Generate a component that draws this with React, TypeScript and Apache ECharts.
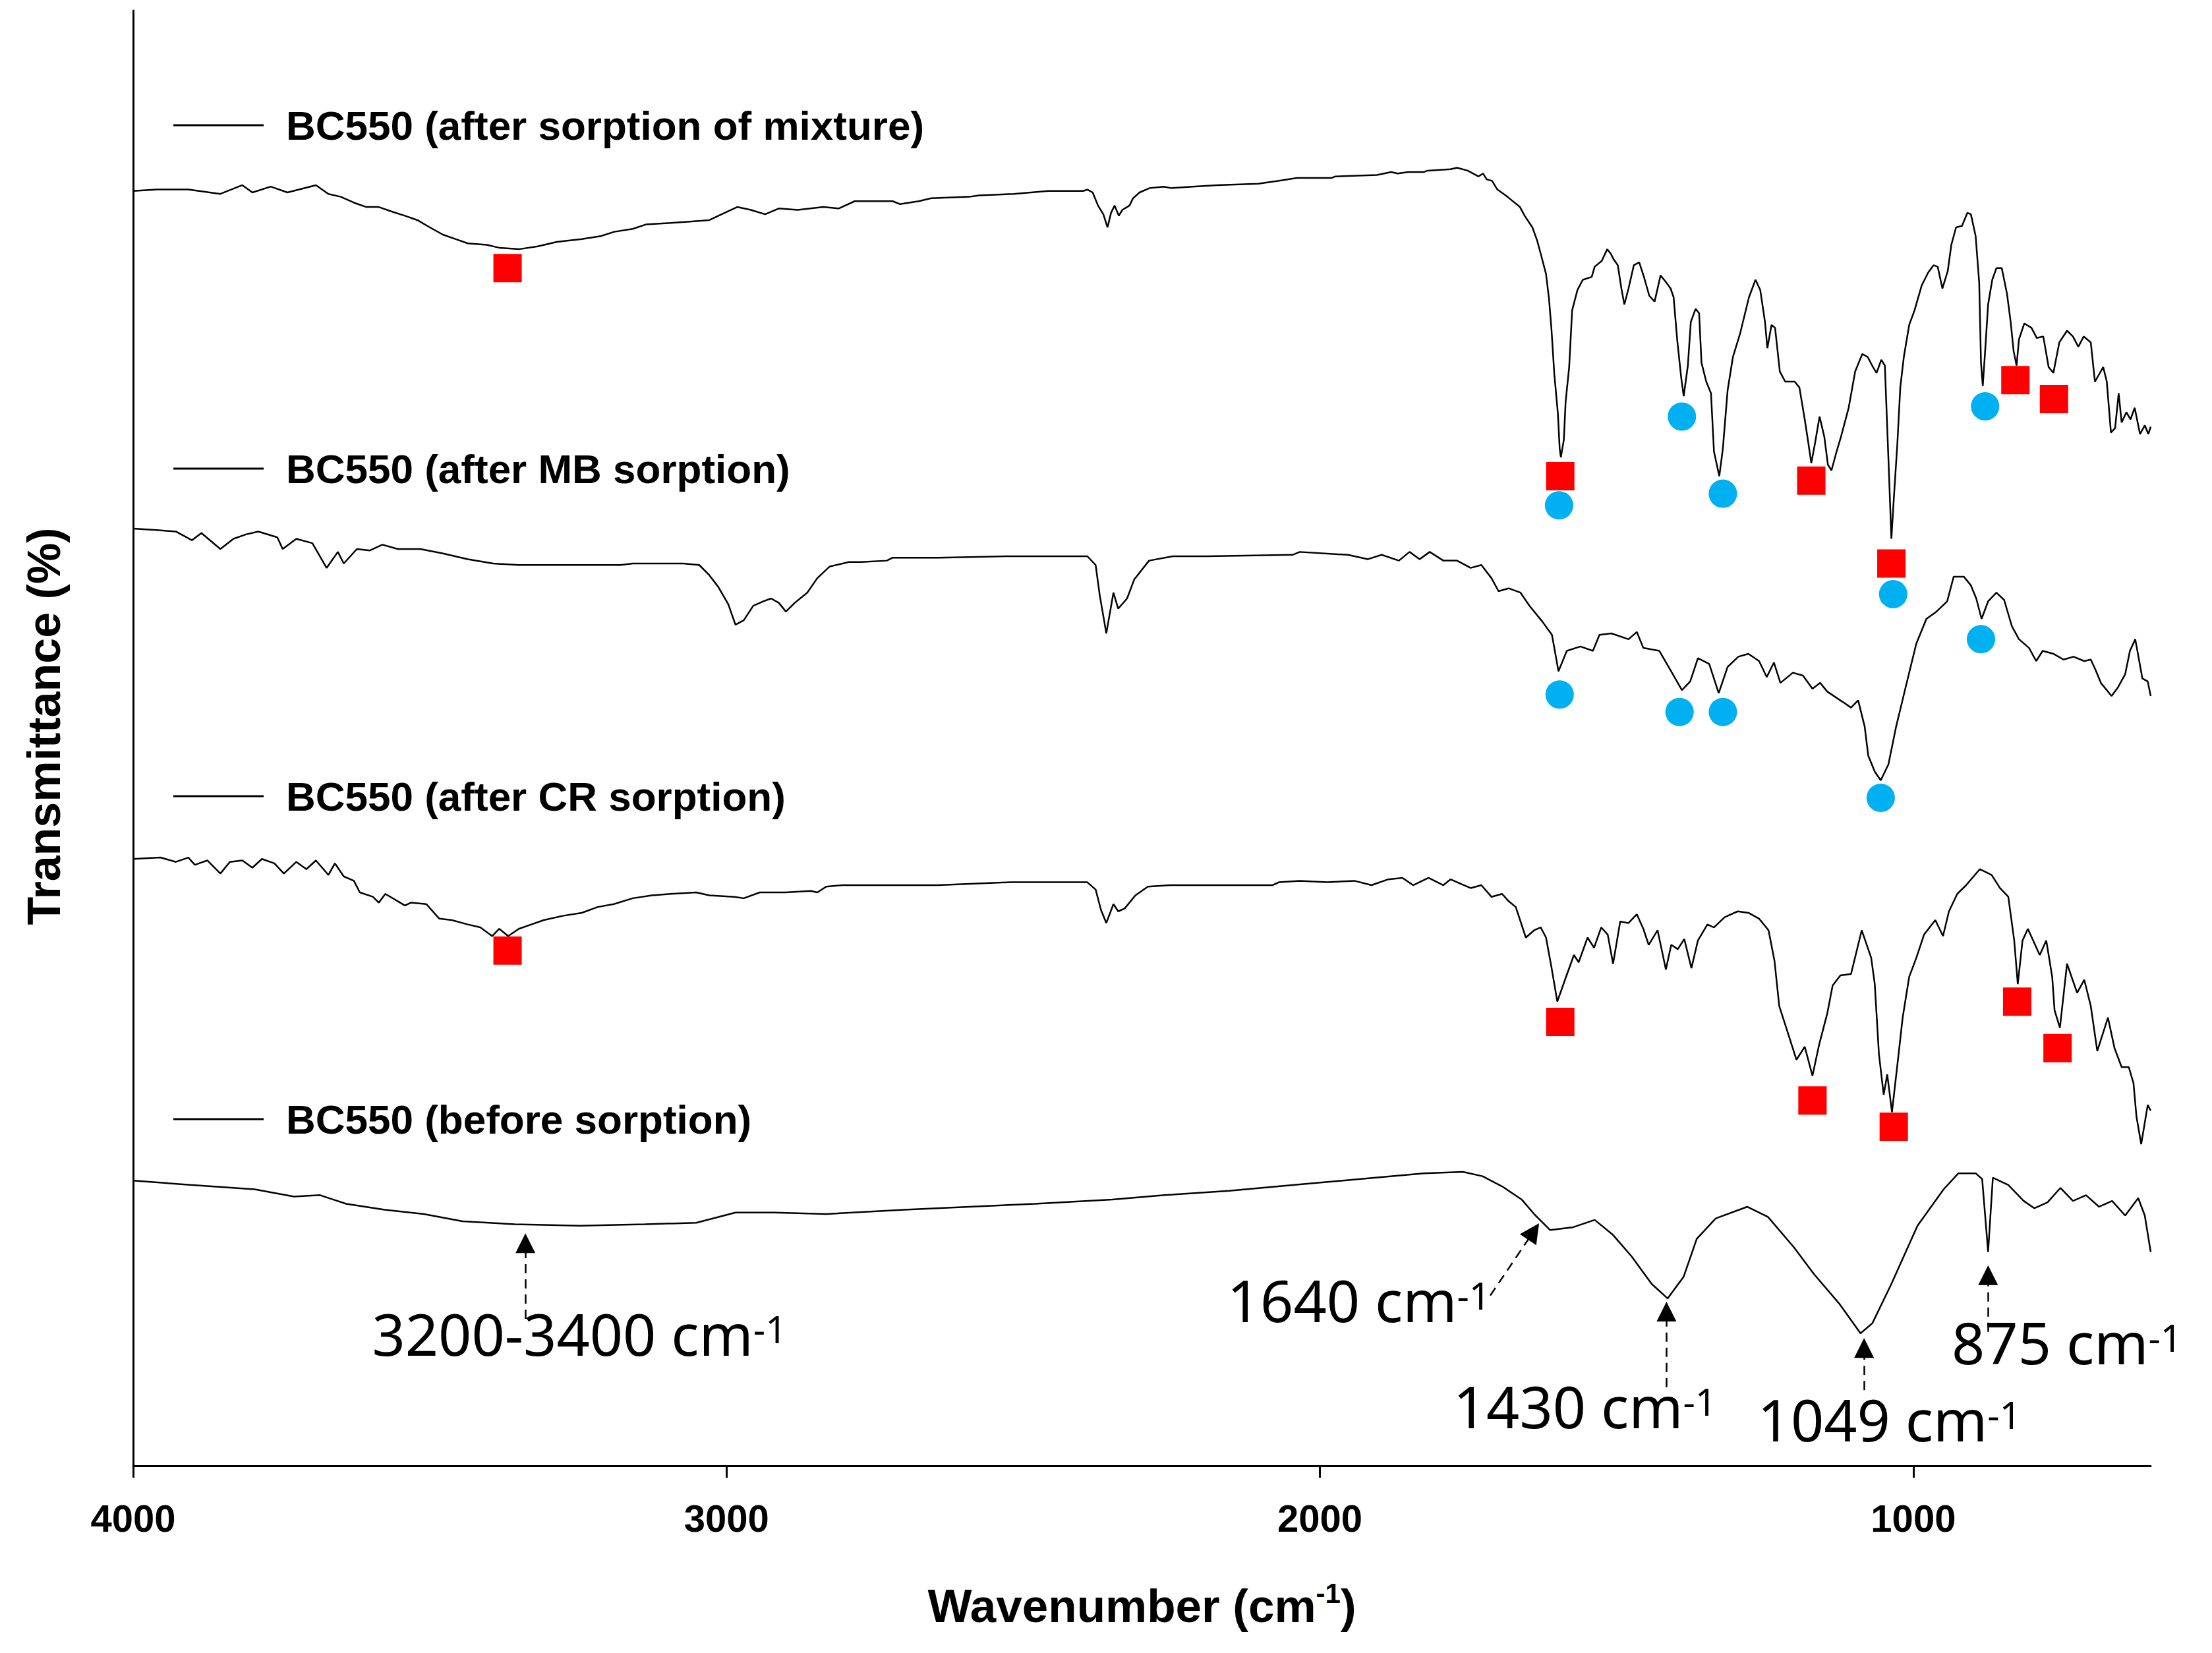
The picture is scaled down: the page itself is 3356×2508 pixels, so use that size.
import React, { useEffect, useRef } from 'react';
import * as echarts from 'echarts';

// ---------- data (wavenumber cm-1, transmittance in stacked/offset units 0-100) ----------
const seriesNames = [
  'BC550 (after sorption of mixture)',
  'BC550 (after MB sorption)',
  'BC550 (after CR sorption)',
  'BC550 (before sorption)',
];

const mixture: number[][] = [
  [4000,87.6],[3960,87.7],[3907,87.7],[3853,87.4],[3816,88.0],[3799,87.5],[3768,87.9],[3740,87.5],[3692,88.0],[3671,87.4],[3650,87.2],[3628,86.8],[3607,86.5],[3586,86.5],[3565,86.2],[3542,85.9],[3521,85.6],[3500,85.1],[3478,84.6],[3457,84.3],[3436,84.0],[3404,83.9],[3383,83.7],[3350,83.6],[3318,83.8],[3286,84.1],[3244,84.3],[3212,84.5],[3189,84.8],[3158,85.0],[3136,85.3],[3094,85.4],[3062,85.5],[3029,85.6],[3003,86.1],[2982,86.5],[2959,86.3],[2935,86.0],[2912,86.4],[2880,86.3],[2837,86.5],[2811,86.4],[2784,86.9],[2720,86.9],[2708,86.7],[2676,86.9],[2655,87.1],[2591,87.2],[2575,87.3],[2516,87.4],[2458,87.6],[2399,87.6],[2392,87.7],[2383,87.5],[2374,86.6],[2365,86.0],[2358,85.1],[2352,86.1],[2346,86.6],[2339,85.9],[2333,86.3],[2321,86.6],[2315,87.1],[2304,87.5],[2287,87.8],[2263,87.9],[2251,87.8],[2215,87.9],[2174,88.0],[2104,88.1],[2069,88.3],[2039,88.5],[1980,88.5],[1974,88.6],[1904,88.7],[1880,88.9],[1869,88.8],[1851,88.9],[1825,88.9],[1819,89.0],[1780,89.1],[1769,89.2],[1751,89.0],[1733,88.6],[1725,88.8],[1719,88.4],[1710,88.3],[1701,87.7],[1687,87.3],[1663,86.5],[1655,85.9],[1642,85.1],[1634,84.2],[1628,83.3],[1619,81.9],[1614,80.2],[1610,78.2],[1605,75.0],[1599,72.3],[1596,69.9],[1594,69.3],[1589,70.5],[1586,73.1],[1580,75.5],[1575,79.4],[1566,80.8],[1557,81.5],[1542,81.7],[1537,82.4],[1525,82.8],[1516,83.6],[1510,83.3],[1505,82.9],[1498,82.5],[1492,80.9],[1487,79.8],[1480,80.9],[1471,82.5],[1462,82.7],[1454,81.7],[1445,80.4],[1436,80.0],[1426,81.8],[1418,81.4],[1409,80.9],[1404,80.3],[1398,77.4],[1391,74.7],[1387,73.5],[1380,75.6],[1375,78.6],[1367,79.5],[1361,79.2],[1357,75.8],[1349,74.5],[1341,73.7],[1336,69.7],[1327,68.0],[1321,69.9],[1313,73.9],[1304,76.2],[1292,77.8],[1277,80.3],[1266,81.5],[1258,80.8],[1250,78.6],[1246,76.8],[1239,78.4],[1233,78.2],[1225,75.2],[1216,74.5],[1200,74.5],[1192,74.1],[1183,71.9],[1177,70.3],[1172,68.9],[1166,70.2],[1158,72.1],[1150,70.7],[1144,68.8],[1138,68.4],[1130,69.6],[1122,70.7],[1109,72.7],[1098,75.2],[1086,76.4],[1077,76.2],[1068,75.5],[1062,75.1],[1054,76.0],[1048,75.6],[1042,69.2],[1037,63.7],[1033,66.4],[1027,70.2],[1022,74.1],[1016,76.2],[1007,78.4],[998,79.4],[986,81.1],[975,82.0],[966,82.5],[959,82.4],[951,80.9],[942,82.1],[936,83.9],[928,85.1],[918,85.2],[909,86.1],[903,86.0],[895,84.5],[889,81.3],[886,75.8],[883,74.2],[879,76.6],[874,79.8],[867,81.5],[860,82.3],[851,82.3],[842,80.5],[836,78.6],[831,76.6],[826,75.6],[822,77.4],[813,78.5],[801,78.2],[792,77.5],[781,77.6],[772,75.5],[764,75.1],[754,77.2],[741,78.0],[731,77.6],[722,76.9],[713,77.6],[701,77.2],[694,74.5],[687,75.0],[680,75.5],[674,74.5],[667,71.0],[660,71.3],[654,73.7],[649,71.7],[641,72.4],[634,71.9],[627,72.7],[618,70.9],[610,71.5],[604,70.9],[600,71.4],
];

const mbSorption: number[][] = [
  [4000,64.4],[3960,64.3],[3928,64.2],[3901,63.6],[3885,64.1],[3853,63.0],[3831,63.7],[3810,64.0],[3789,64.2],[3757,63.8],[3748,63.0],[3725,63.7],[3698,63.4],[3674,61.7],[3655,62.8],[3645,62.0],[3623,63.0],[3601,62.9],[3580,63.3],[3554,63.0],[3516,63.0],[3479,62.7],[3436,62.3],[3393,62.0],[3350,61.9],[3265,61.9],[3179,61.9],[3158,62.0],[3073,62.0],[3046,61.9],[3029,61.2],[3014,60.4],[2997,59.2],[2985,57.8],[2971,58.1],[2955,59.1],[2938,59.4],[2925,59.6],[2912,59.3],[2900,58.7],[2885,59.3],[2864,60.0],[2847,61.0],[2826,61.8],[2794,62.1],[2773,62.1],[2730,62.2],[2720,62.4],[2644,62.4],[2526,62.5],[2431,62.5],[2392,62.5],[2378,61.9],[2371,59.8],[2360,57.2],[2348,60.0],[2340,58.9],[2325,59.6],[2313,60.9],[2288,62.2],[2248,62.5],[2190,62.5],[2046,62.6],[2034,62.8],[1953,62.6],[1919,62.3],[1896,62.6],[1867,62.2],[1849,62.8],[1832,62.3],[1815,62.8],[1792,62.2],[1769,62.2],[1746,61.7],[1728,61.9],[1711,61.0],[1699,60.1],[1682,60.3],[1662,60.0],[1647,59.1],[1625,58.0],[1609,57.1],[1598,54.6],[1584,56.0],[1561,56.3],[1540,56.0],[1529,57.1],[1509,57.2],[1480,56.8],[1466,57.3],[1455,56.2],[1428,56.0],[1411,54.8],[1390,53.3],[1376,53.9],[1363,55.5],[1344,55.1],[1328,53.1],[1313,54.9],[1295,55.6],[1278,55.8],[1260,55.3],[1247,54.2],[1235,55.2],[1224,53.8],[1203,54.5],[1186,54.3],[1170,53.4],[1157,53.8],[1145,53.2],[1123,52.6],[1105,52.1],[1093,52.6],[1082,50.8],[1076,48.8],[1065,47.7],[1055,47.1],[1042,48.2],[1029,50.8],[1013,53.5],[995,56.5],[978,58.2],[961,58.7],[943,59.4],[932,61.1],[915,61.1],[903,60.5],[894,59.6],[885,58.2],[874,59.4],[860,60.0],[847,59.5],[834,57.7],[822,56.8],[805,56.2],[793,55.3],[782,56.0],[764,55.8],[747,55.4],[730,55.6],[712,55.3],[701,55.4],[693,54.7],[684,53.8],[666,52.9],[655,53.5],[643,54.4],[635,56.0],[626,56.8],[614,54.1],[605,53.9],[600,52.9],
];

const crSorption: number[][] = [
  [4000,41.7],[3954,41.8],[3928,41.5],[3907,41.8],[3896,41.3],[3875,41.6],[3853,40.7],[3837,41.5],[3816,41.6],[3799,41.1],[3783,41.7],[3762,41.4],[3746,40.7],[3725,41.5],[3708,41.0],[3692,41.6],[3671,40.6],[3660,41.4],[3645,40.5],[3628,40.2],[3618,39.4],[3596,39.1],[3586,38.7],[3575,39.3],[3542,38.5],[3532,38.7],[3506,38.6],[3484,37.6],[3463,37.5],[3436,37.2],[3415,37.0],[3395,36.4],[3383,36.9],[3368,36.4],[3350,36.9],[3329,37.2],[3308,37.5],[3275,37.8],[3244,38.0],[3217,38.4],[3190,38.6],[3158,39.0],[3126,39.2],[3094,39.3],[3051,39.4],[3029,39.2],[2987,39.1],[2971,39.0],[2944,39.4],[2901,39.4],[2858,39.5],[2847,39.4],[2832,39.8],[2805,39.9],[2687,39.9],[2644,39.9],[2522,40.1],[2399,40.1],[2392,40.1],[2378,39.6],[2369,38.2],[2360,37.3],[2348,38.6],[2340,38.1],[2329,38.3],[2311,39.2],[2290,39.8],[2253,39.9],[2080,39.9],[2069,40.1],[2034,40.2],[1988,40.1],[1942,40.2],[1913,39.9],[1885,40.3],[1861,40.4],[1843,39.9],[1817,40.4],[1792,39.9],[1780,40.3],[1763,40.0],[1746,39.7],[1728,39.9],[1711,39.1],[1693,39.3],[1682,38.8],[1670,38.4],[1653,36.3],[1639,36.8],[1628,37.0],[1619,36.3],[1610,34.3],[1600,31.9],[1587,33.4],[1572,35.1],[1564,34.6],[1549,36.3],[1538,35.6],[1526,37.0],[1515,36.5],[1506,34.5],[1494,37.4],[1480,37.3],[1466,37.9],[1455,36.9],[1446,35.8],[1431,36.8],[1417,34.1],[1408,35.8],[1397,35.5],[1386,36.2],[1374,34.2],[1363,36.1],[1347,37.2],[1336,37.0],[1318,37.7],[1296,38.1],[1278,38.0],[1260,37.6],[1244,36.8],[1234,34.7],[1226,31.6],[1215,30.2],[1197,27.9],[1183,28.8],[1170,26.8],[1159,28.9],[1145,31.1],[1136,33.0],[1123,33.7],[1105,33.8],[1087,36.8],[1071,34.9],[1065,33.1],[1058,28.3],[1050,25.5],[1044,26.9],[1036,24.3],[1024,28.6],[1018,30.8],[1007,33.6],[995,34.9],[982,36.5],[963,37.5],[950,36.4],[940,38.1],[926,39.3],[911,39.9],[888,41.0],[868,40.6],[854,39.7],[840,39.1],[830,36.1],[824,33.1],[816,36.1],[807,36.9],[787,35.1],[776,36.1],[766,33.6],[762,31.3],[753,30.1],[741,34.5],[724,32.5],[712,33.4],[701,31.6],[690,28.5],[672,30.8],[661,28.7],[649,27.4],[637,27.4],[629,26.3],[624,24.0],[616,22.1],[605,24.8],[600,24.4],
];

const beforeSorption: number[][] = [
  [4000,19.6],[3904,19.3],[3795,19.0],[3729,18.5],[3685,18.6],[3641,18.0],[3576,17.6],[3510,17.3],[3445,16.8],[3357,16.6],[3247,16.5],[3138,16.6],[3051,16.7],[2985,17.4],[2919,17.4],[2832,17.3],[2701,17.6],[2591,17.8],[2481,18.0],[2350,18.3],[2262,18.6],[2153,18.9],[2043,19.3],[1934,19.7],[1825,20.1],[1759,20.2],[1726,19.9],[1693,19.2],[1660,18.3],[1639,17.3],[1612,16.2],[1573,16.4],[1537,16.9],[1507,15.9],[1475,14.4],[1441,12.5],[1414,11.5],[1387,13.0],[1365,15.6],[1333,17.0],[1280,17.8],[1245,17.1],[1201,15.0],[1168,13.2],[1124,11.1],[1089,9.1],[1069,9.8],[1037,12.5],[993,16.5],[949,19.0],[924,20.1],[895,20.1],[884,19.7],[874,14.7],[866,19.8],[840,19.3],[814,18.2],[796,17.7],[774,18.1],[752,19.1],[731,18.2],[709,18.6],[687,17.8],[665,18.2],[643,17.2],[621,18.4],[610,17.2],[600,14.7],
];

// red squares (CR-related bands) and blue circles (MB-related bands)
const redSquares: number[][] = [
  [3369,82.3],[1595,68.0],[1172,67.7],[1037,62.0],[828,74.6],[763,73.3],
  [3369,35.4],[1595,30.5],[1170,25.1],[1033,23.3],[825,31.9],[757,28.7],
];
const blueCircles: number[][] = [
  [1597,66.0],[1390,72.1],[1321,66.8],[1034,59.9],[879,72.8],
  [1596,53.0],[1394,51.8],[1321,51.8],[1055,45.9],[886,56.8],
];

const xTicks = [1000, 2000, 3000, 4000];

// annotation arrows on the "before sorption" spectrum: [from, to]
const arrowLines: number[][][] = [
  [[3339,10.1],[3339,15.3]],
  [[1713,11.7],[1640,16.1]],
  [[1416,5.4],[1416,10.6]],
  [[1083,5.2],[1083,8.1]],
  [[874,9.2],[874,13.1]],
];
const bandLabels = ['3200-3400', '1640', '1430', '1049', '875'];
const bandLabelAnchors: number[][] = [
  [3598,9.1],[2157,11.4],[1776,4.1],[1263,3.2],[936,8.5],
];

const ARIAL = '"Liberation Sans", Arial, Helvetica, sans-serif';
const NOTE_FONT = '"Noto Sans", "Open Sans", sans-serif';

export default function App() {
  const ref = useRef<HTMLDivElement>(null);

  useEffect(() => {
    if (!ref.current) return;
    const chart = echarts.init(ref.current, null, { renderer: 'svg' });
    const spectra = [mixture, mbSorption, crSorption, beforeSorption];
    const legendTops = [155, 676, 1173, 1663];

    const option: any = {
      animation: false,
      backgroundColor: '#ffffff',
      grid: { left: 202, right: 93, top: 16, bottom: 284, containLabel: false },
      legend: seriesNames.map((n, i) => ({
        data: [n],
        left: 263,
        top: legendTops[i],
        padding: 0,
        icon: 'rect',
        itemWidth: 137,
        itemHeight: 3,
        selectedMode: false,
        textStyle: {
          fontFamily: ARIAL,
          fontWeight: 'bold',
          fontSize: 62,
          lineHeight: 70,
          color: '#000',
          padding: [0, 0, 0, 29],
        },
      })),
      xAxis: {
        type: 'value',
        min: 600,
        max: 4000,
        inverse: true,
        name: '{t|Wavenumber (cm}{s|-1}{t|)}',
        nameLocation: 'middle',
        nameGap: 172,
        nameTextStyle: {
          rich: {
            t: { fontFamily: ARIAL, fontWeight: 'bold', fontSize: 71, color: '#000', lineHeight: 80 },
            s: { fontFamily: ARIAL, fontWeight: 'bold', fontSize: 42, color: '#000', lineHeight: 48, verticalAlign: 'top' },
          },
        },
        axisLine: { show: true, onZero: false, lineStyle: { color: '#000', width: 3 } },
        axisTick: { show: true, inside: false, length: 18, customValues: xTicks, lineStyle: { color: '#000', width: 3 } },
        axisLabel: {
          show: true,
          customValues: xTicks,
          margin: 50,
          fontFamily: ARIAL,
          fontWeight: 'bold',
          fontSize: 58,
          color: '#000',
          formatter: (v: number) => String(v),
        },
        splitLine: { show: false },
      },
      yAxis: {
        type: 'value',
        min: 0,
        max: 100,
        name: 'Transmittance (%)',
        nameLocation: 'middle',
        nameGap: 100,
        nameTextStyle: { fontFamily: ARIAL, fontWeight: 'bold', fontSize: 70, color: '#000', padding: [0, 0, 0, 36] },
        axisLine: { show: true, onZero: false, lineStyle: { color: '#000', width: 3 } },
        axisTick: { show: false },
        axisLabel: { show: false },
        splitLine: { show: false },
      },
      series: [
        ...spectra.map((d, i) => ({
          type: 'line',
          name: seriesNames[i],
          data: d,
          showSymbol: false,
          symbol: 'none',
          smooth: false,
          lineStyle: { color: '#000', width: 2.5 },
          itemStyle: { color: '#000' },
          z: 2,
        })),
        {
          type: 'scatter',
          name: 'red',
          data: redSquares,
          symbol: 'rect',
          symbolSize: 43,
          itemStyle: { color: '#FF0000', opacity: 1 },
          z: 3,
        },
        {
          type: 'scatter',
          name: 'blue',
          data: blueCircles,
          symbol: 'circle',
          symbolSize: 43,
          itemStyle: { color: '#00B0F0', opacity: 1 },
          z: 3,
        },
        {
          type: 'lines',
          coordinateSystem: 'cartesian2d',
          data: arrowLines.map((c) => ({ coords: c })),
          symbol: ['none', 'triangle'],
          symbolSize: [34, 30],
          lineStyle: { color: '#000', width: 2.5, type: [14, 9], opacity: 1, curveness: 0 },
          z: 4,
        },
        {
          type: 'scatter',
          name: 'bands',
          data: bandLabelAnchors.map((v, i) => ({ value: v, name: bandLabels[i] })),
          symbol: 'circle',
          symbolSize: 1,
          itemStyle: { color: 'rgba(255,255,255,0)', opacity: 1 },
          label: {
            show: true,
            position: 'right',
            distance: 0,
            color: '#000',
            opacity: 1,
            formatter: (p: any) => `{n|${p.name} cm}{s|-1}`,
            rich: {
              n: { fontFamily: NOTE_FONT, fontSize: 88, color: '#000', lineHeight: 72 },
              s: { fontFamily: NOTE_FONT, fontSize: 57, color: '#000', lineHeight: 42, verticalAlign: 'top' },
            },
          },
          z: 5,
        },
      ],
    };

    chart.setOption(option);
    return () => chart.dispose();
  }, []);

  return (
    <div
      ref={ref}
      style={{ position: 'absolute', left: 0, top: 0, width: 3356, height: 2508, background: '#fff' }}
    />
  );
}
